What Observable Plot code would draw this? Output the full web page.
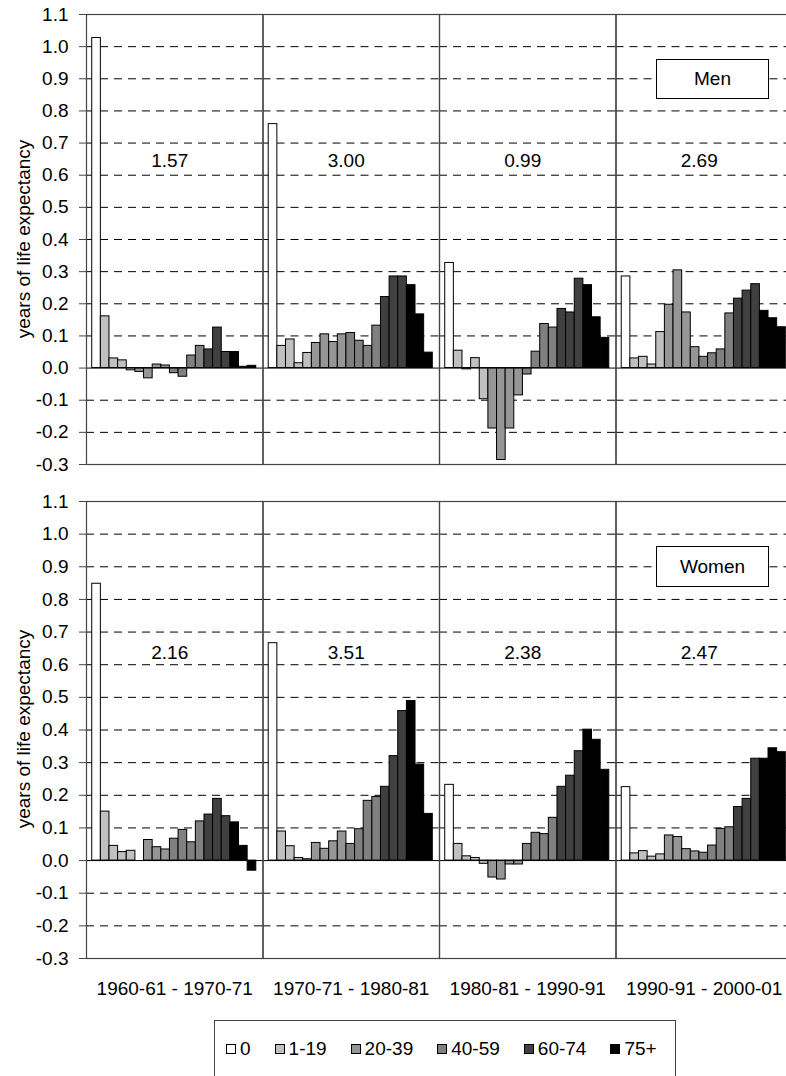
<!DOCTYPE html>
<html>
<head>
<meta charset="utf-8">
<script src="https://cdn.jsdelivr.net/npm/d3@7"></script>
<script src="https://cdn.jsdelivr.net/npm/@observablehq/plot@0.6"></script>
<style>
  html, body { margin: 0; padding: 0; background: #fff; }
  body { width: 786px; height: 1076px; overflow: hidden; position: relative;
         font-family: 'Liberation Sans', Arial, Helvetica, sans-serif; color: #000; }
  .abs { position: absolute; }
  .ytitle { position: absolute; white-space: nowrap; font-size: 19px; line-height: 1;
            transform: translate(-50%, -50%) rotate(-90deg); }
  .tag { position: absolute; box-sizing: border-box; border: 1px solid #000; background: #fff;
         font-size: 19px; display: flex; align-items: center; justify-content: center; }
  #legend { position: absolute; box-sizing: border-box; left: 214px; top: 1020px; width: 462px; height: 57px;
            border: 1px solid #444; background: #fff; display: flex; align-items: center;
            padding-left: 11px; gap: 24px; font-size: 19px; }
  .item { display: flex; align-items: center; gap: 4px; }
  .sw { width: 10px; height: 10px; box-sizing: border-box; border: 1px solid #000; }
</style>
</head>
<body>
<div id="men" class="abs" style="left:0;top:0"></div>
<div id="women" class="abs" style="left:0;top:480px"></div>
<div id="legend"></div>
<script>
// ---------- data ----------
const periods = ["1960-61 - 1970-71", "1970-71 - 1980-81", "1980-81 - 1990-91", "1990-91 - 2000-01"];
const ages = ["0","1-4","5-9","10-14","15-19","20-24","25-29","30-34","35-39",
              "40-44","45-49","50-54","55-59","60-64","65-69","70-74","75-79","80-84","85+"];
const ageClass = ["0","1-19","1-19","1-19","1-19","20-39","20-39","20-39","20-39",
                  "40-59","40-59","40-59","40-59","60-74","60-74","60-74","75+","75+","75+"];
const classes = ["0", "1-19", "20-39", "40-59", "60-74", "75+"];
const classColors = ["#ffffff", "#c0c0c0", "#969696", "#808080", "#404040", "#000000"];

const men1960 = [1.027, 0.161, 0.030, 0.024, -0.007, -0.012, -0.032, 0.011, 0.008, -0.016, -0.027, 0.039, 0.069, 0.058, 0.126, 0.050, 0.050, 0.004, 0.007];
const men1970 = [0.759, 0.069, 0.089, 0.015, 0.047, 0.078, 0.105, 0.081, 0.105, 0.109, 0.085, 0.069, 0.132, 0.221, 0.285, 0.285, 0.258, 0.167, 0.048];
const men1980 = [0.327, 0.054, -0.004, 0.031, -0.097, -0.188, -0.286, -0.188, -0.085, -0.020, 0.051, 0.137, 0.126, 0.184, 0.173, 0.278, 0.258, 0.158, 0.094];
const men1990 = [0.285, 0.030, 0.035, 0.011, 0.112, 0.197, 0.304, 0.173, 0.065, 0.035, 0.046, 0.058, 0.170, 0.216, 0.241, 0.261, 0.178, 0.155, 0.127];

const women1960 = [0.848, 0.150, 0.045, 0.026, 0.030, 0.000, 0.063, 0.041, 0.034, 0.067, 0.094, 0.056, 0.120, 0.141, 0.189, 0.136, 0.117, 0.045, -0.031];
const women1970 = [0.666, 0.089, 0.044, 0.008, 0.004, 0.054, 0.036, 0.059, 0.089, 0.051, 0.096, 0.183, 0.195, 0.226, 0.320, 0.458, 0.489, 0.294, 0.143];
const women1980 = [0.232, 0.051, 0.013, 0.008, -0.010, -0.052, -0.058, -0.012, -0.012, 0.051, 0.085, 0.081, 0.131, 0.226, 0.260, 0.335, 0.401, 0.370, 0.278];
const women1990 = [0.225, 0.022, 0.029, 0.012, 0.019, 0.077, 0.072, 0.035, 0.028, 0.024, 0.046, 0.097, 0.102, 0.164, 0.189, 0.312, 0.312, 0.344, 0.332];

const menTotals = ["1.57", "3.00", "0.99", "2.69"];
const womenTotals = ["2.16", "3.51", "2.38", "2.47"];

const yTicks = [-0.3, -0.2, -0.1, 0.0, 0.1, 0.2, 0.3, 0.4, 0.5, 0.6, 0.7, 0.8, 0.9, 1.0, 1.1];
const yTitle = "years of life expectancy";

// ---------- build ----------
const FONT = "'Liberation Sans', Arial, Helvetica, sans-serif";
const gridTicks = yTicks.filter(t => t !== 0 && t !== yTicks[0] && t !== yTicks[yTicks.length - 1]);

function rowsOf(series) {
  const rows = [];
  periods.forEach((p, i) => ages.forEach((a, j) =>
    rows.push({period: p, age: a, cls: ageClass[j], value: series[i][j]})));
  return rows;
}

function panel(series, totals, {height, marginTop, marginBottom, showX, labelLevel}) {
  const rows = rowsOf(series);
  const totalRows = periods.map((p, i) => ({period: p, text: totals[i]}));
  return Plot.plot({
    width: 786, height, marginLeft: 86, marginRight: -6, marginTop, marginBottom,
    style: {fontFamily: FONT, fontSize: "19px", color: "#000", background: "transparent", overflow: "visible"},
    fx: {domain: periods, padding: 0, round: false, label: null, ...(showX ? {} : {axis: null})},
    x: {domain: ages, paddingInner: 0, paddingOuter: 0.72, align: 0.46, round: false, axis: null},
    y: {domain: [yTicks[0], yTicks[yTicks.length - 1]], axis: null},
    color: {domain: classes, range: classColors},
    marks: [
      Plot.ruleY(gridTicks, {stroke: "#000", strokeWidth: 1, strokeDasharray: "8,6"}),
      Plot.barY(rows, {fx: "period", x: "age", y1: 0, y2: "value", fill: "cls", stroke: "#000", strokeWidth: 1}),
      Plot.ruleY([0], {stroke: "#000", strokeWidth: 1}),
      Plot.frame({stroke: "#444", strokeWidth: 1.2}),
      Plot.text(totalRows, {fx: "period", y: () => labelLevel, text: "text", dx: -5, fontSize: 19, fill: "#000"}),
      Plot.axisY({ticks: yTicks, tickFormat: d => d.toFixed(1), tickSize: 7, tickPadding: 11,
                  label: null, fontSize: 19, stroke: "#444"}),
      showX ? Plot.axisFx({anchor: "bottom", tickSize: 0, tickPadding: 23, label: null, fontSize: 19}) : null
    ]
  });
}

document.getElementById("men").append(
  panel([men1960, men1970, men1980, men1990], menTotals,
        {height: 480, marginTop: 14, marginBottom: 16, showX: false, labelLevel: 0.645}));
document.getElementById("women").append(
  panel([women1960, women1970, women1980, women1990], womenTotals,
        {height: 540, marginTop: 21, marginBottom: 62, showX: true, labelLevel: 0.636}));

// y titles
function addTitle(cy) {
  const d = document.createElement("div");
  d.className = "ytitle"; d.textContent = yTitle;
  d.style.left = "23px"; d.style.top = cy + "px";
  document.body.append(d);
}
addTitle(239);
addTitle(729);

// sex tags
function addTag(text, top, h) {
  const d = document.createElement("div");
  d.className = "tag"; d.textContent = text;
  d.style.left = "656px"; d.style.top = top + "px"; d.style.width = "113px"; d.style.height = h + "px";
  document.body.append(d);
}
addTag("Men", 59, 40);
addTag("Women", 546, 41);

// legend
const legend = document.getElementById("legend");
classes.forEach((c, i) => {
  const it = document.createElement("div"); it.className = "item";
  const sw = document.createElement("span"); sw.className = "sw"; sw.style.background = classColors[i];
  const tx = document.createElement("span"); tx.textContent = c;
  it.append(sw, tx); legend.append(it);
});
</script>
</body>
</html>
